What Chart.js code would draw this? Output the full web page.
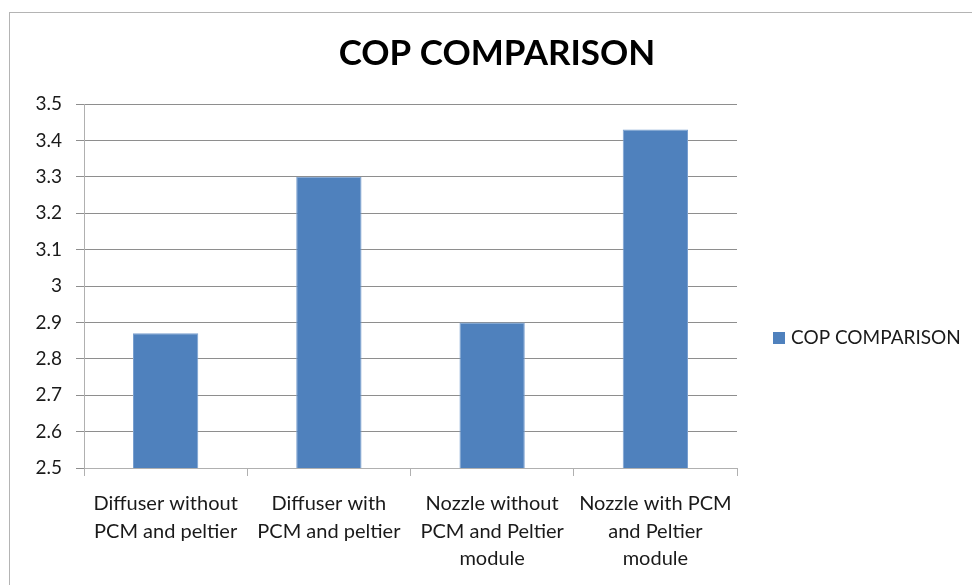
<!DOCTYPE html>
<html>
<head>
<meta charset="utf-8">
<script src="https://cdn.jsdelivr.net/npm/chart.js@4.4.1/dist/chart.umd.min.js"></script>
<style>
  html, body { margin: 0; padding: 0; background: #ffffff; }
  #wrap { width: 972px; height: 585px; position: relative; }
</style>
</head>
<body>
<div id="wrap"><canvas id="chart" width="972" height="585"></canvas></div>
<script>
// Chart content
const chartTitle = 'COP COMPARISON';
const seriesLabel = 'COP COMPARISON';
const categories = [
  ['Diffuser without', 'PCM and peltier'],
  ['Diffuser with', 'PCM and peltier'],
  ['Nozzle without', 'PCM and Peltier', 'module'],
  ['Nozzle with PCM', 'and Peltier', 'module']
];
const copValues = [2.87, 3.30, 2.90, 3.43];
const yTicks = [2.5, 2.6, 2.7, 2.8, 2.9, 3, 3.1, 3.2, 3.3, 3.4, 3.5];

const FONT = 'Lato, "Open Sans", "DejaVu Sans", sans-serif';
const BAR_COLOR = '#4f81bd';

// Outer frame, title and legend drawn around the plot area
const decorations = {
  id: 'decorations',
  beforeDraw(chart) {
    const ctx = chart.ctx;
    ctx.save();
    ctx.strokeStyle = '#b4b4b4';
    ctx.lineWidth = 1;
    ctx.strokeRect(9.5, 12.5, chart.width + 20, chart.height + 20);
    ctx.restore();
  },
  afterDraw(chart) {
    const ctx = chart.ctx;
    ctx.save();
    // title
    ctx.fillStyle = '#000000';
    ctx.font = 'bold 35px ' + FONT;
    ctx.textAlign = 'center';
    ctx.textBaseline = 'middle';
    ctx.fillText(chartTitle, 497, 54);
    // legend
    const ds = chart.data.datasets[0];
    ctx.fillStyle = ds.backgroundColor;
    ctx.fillRect(773, 332, 12, 12);
    ctx.fillStyle = '#1a1a1a';
    ctx.font = '19px ' + FONT;
    ctx.textAlign = 'left';
    ctx.fillText(ds.label, 791, 338);
    ctx.restore();
  }
};

new Chart(document.getElementById('chart'), {
  type: 'bar',
  data: {
    labels: categories,
    datasets: [{
      label: seriesLabel,
      data: copValues,
      backgroundColor: BAR_COLOR,
      borderColor: '#7aa0d0',
      borderWidth: 1,
      categoryPercentage: 0.4,
      barPercentage: 1.0
    }]
  },
  options: {
    responsive: false,
    animation: false,
    devicePixelRatio: 1,
    layout: { padding: { left: 9, top: 104, right: 235, bottom: 0 } },
    plugins: {
      legend: { display: false },
      title: { display: false },
      tooltip: { enabled: false }
    },
    scales: {
      x: {
        grid: {
          display: true,
          drawOnChartArea: false,
          drawTicks: true,
          tickLength: 8,
          color: '#b0b0b0',
          offset: true
        },
        border: { display: true, color: '#b0b0b0', width: 1 },
        ticks: {
          color: '#1a1a1a',
          font: { family: FONT, size: 20, lineHeight: 1.375 },
          padding: 14,
          maxRotation: 0,
          autoSkip: false
        },
        afterFit(scale) { scale.height = 117; }
      },
      y: {
        min: 2.5,
        max: 3.5,
        afterBuildTicks(scale) { scale.ticks = yTicks.map(v => ({ value: v })); },
        grid: {
          color: '#8e8e8e',
          lineWidth: 1,
          tickLength: 8,
          drawTicks: true
        },
        border: { display: true, color: '#b0b0b0', width: 1 },
        ticks: {
          color: '#1a1a1a',
          font: { family: FONT, size: 19 },
          padding: 14,
          callback: (v) => String(Math.round(v * 10) / 10)
        },
        afterFit(scale) { scale.width = 75; }
      }
    }
  },
  plugins: [decorations]
});
</script>
</body>
</html>
